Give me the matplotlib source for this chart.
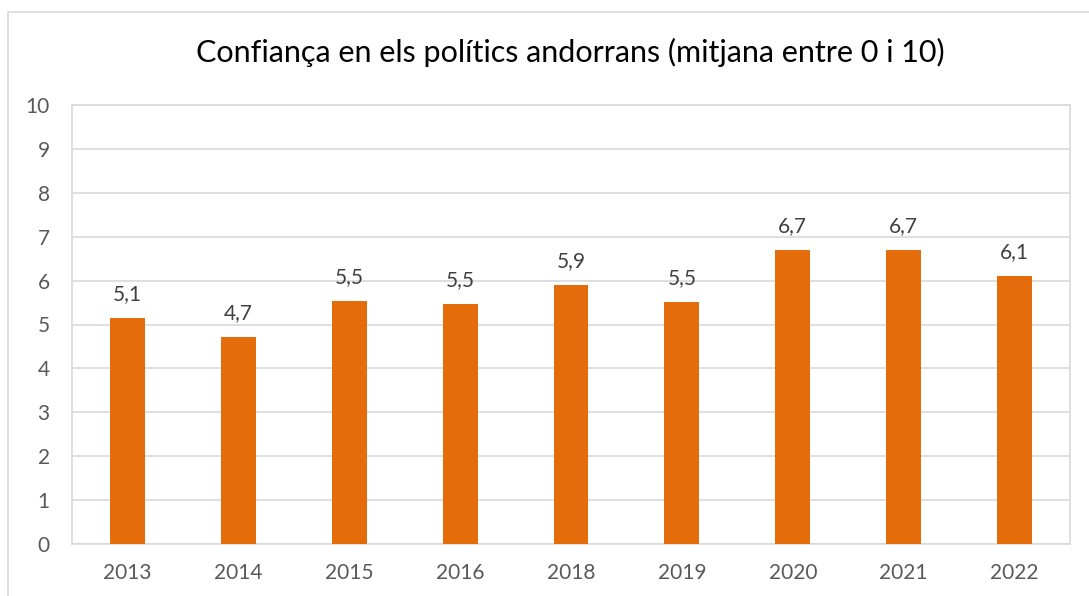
import matplotlib
matplotlib.use("Agg")
import matplotlib.pyplot as plt
from matplotlib.patches import Rectangle

years = ["2013", "2014", "2015", "2016", "2018", "2019", "2020", "2021", "2022"]
values = [5.14, 4.72, 5.53, 5.46, 5.9, 5.51, 6.7, 6.7, 6.1]
labels = ["5,1", "4,7", "5,5", "5,5", "5,9", "5,5", "6,7", "6,7", "6,1"]
title = "Confiança en els polítics andorrans (mitjana entre 0 i 10)"

plt.rcParams['font.family'] = ['Lato', 'DejaVu Sans']

W, H = 1089, 596
fig = plt.figure(figsize=(W / 100, H / 100), dpi=100)
fig.patch.set_facecolor('white')

# outer chart border (cropped on right and bottom)
fig.add_artist(Rectangle((8 / W, -0.1), 1.2, 1 - 12 / H + 0.1, transform=fig.transFigure,
                         fill=False, edgecolor='#D9D9D9', linewidth=1.2))

left, right, top, bottom = 72, 1070, 105, 544
ax = fig.add_axes([left / W, 1 - bottom / H, (right - left) / W, (bottom - top) / H])
x = list(range(len(years)))
ax.bar(x, values, width=0.315, color='#E46C0A', zorder=3)
for xi, v, lab in zip(x, values, labels):
    ax.annotate(lab, (xi, v), xytext=(0, 10), textcoords='offset points',
                ha='center', va='bottom', fontsize=15, color='#404040')

ax.set_xlim(-0.5, len(years) - 0.5)
ax.set_ylim(0, 10)
ax.set_yticks(range(0, 11))
ax.set_xticks(x)
ax.set_xticklabels(years)
ax.tick_params(axis='both', length=0, labelsize=15, labelcolor='#595959')
ax.tick_params(axis='x', pad=14)
ax.tick_params(axis='y', pad=16)
ax.grid(axis='y', color='#D9D9D9', linewidth=1.2, zorder=0)
for s in ['top', 'right', 'left', 'bottom']:
    ax.spines[s].set_color('#D9D9D9')
    ax.spines[s].set_linewidth(1.2)

fig.text(570 / W, 1 - 52 / H, title, ha='center', va='center', fontsize=22, color='#000000')

fig.savefig('out.png', dpi=100, facecolor='white')
